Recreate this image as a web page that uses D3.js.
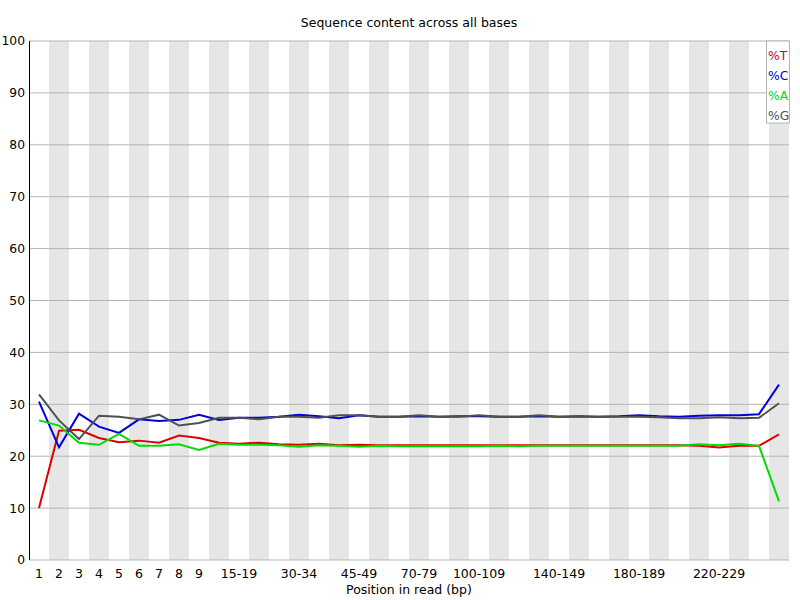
<!DOCTYPE html>
<html>
<head>
<meta charset="utf-8">
<script src="https://cdn.jsdelivr.net/npm/d3@7"></script>
<style>
  body { margin: 0; background: #fff; }
  text { font-family: "DejaVu Sans", sans-serif; }
</style>
</head>
<body>
<svg id="chart"></svg>
<script>
// positions in read (bp), FastQC style grouping
const categories = [
  "1", "2", "3", "4", "5", "6", "7", "8", "9",
  "10-14", "15-19", "20-24", "25-29", "30-34", "35-39", "40-44", "45-49",
  "50-59", "60-69", "70-79", "80-89", "90-99", "100-109", "110-119", "120-129",
  "130-139", "140-149", "150-159", "160-169", "170-179", "180-189", "190-199",
  "200-209", "210-219", "220-229", "230-239", "240-249", "250-251"
];

// labels that are actually printed under the axis
const shownLabels = [
  "1", "2", "3", "4", "5", "6", "7", "8", "9",
  "15-19", "30-34", "45-49", "70-79", "100-109", "140-149", "180-189", "220-229"
];

const yTicks = [0, 10, 20, 30, 40, 50, 60, 70, 80, 90, 100];

const tValues = [
  10.0, 24.9, 25.1, 23.5, 22.7, 23.0, 22.6, 24.0, 23.5, 22.6,
  22.4, 22.6, 22.3, 22.2, 22.4, 22.1, 22.2, 22.1, 22.1, 22.1,
  22.1, 22.1, 22.1, 22.1, 22.1, 22.1, 22.1, 22.1, 22.1, 22.1,
  22.1, 22.1, 22.1, 22.0, 21.7, 22.0, 22.0, 24.2
];
const cValues = [
  30.5, 21.7, 28.2, 25.7, 24.5, 27.1, 26.8, 27.0, 28.0, 27.0,
  27.4, 27.4, 27.6, 28.0, 27.7, 27.3, 27.9, 27.6, 27.6, 27.7,
  27.6, 27.7, 27.7, 27.6, 27.6, 27.7, 27.6, 27.7, 27.6, 27.7,
  27.9, 27.7, 27.6, 27.8, 27.9, 27.9, 28.1, 33.8
];
const aValues = [
  26.9, 25.9, 22.6, 22.2, 24.3, 22.0, 22.0, 22.3, 21.2, 22.4,
  22.2, 22.2, 22.1, 21.8, 22.1, 22.0, 21.8, 22.0, 21.9, 21.9,
  21.9, 21.9, 21.9, 22.0, 21.9, 22.0, 22.0, 22.0, 22.0, 22.0,
  22.0, 22.0, 22.0, 22.3, 22.1, 22.4, 22.0, 11.3
];
const gValues = [
  31.9, 26.9, 23.3, 27.8, 27.6, 27.1, 28.0, 25.9, 26.4, 27.4,
  27.4, 27.1, 27.6, 27.6, 27.4, 27.9, 27.9, 27.6, 27.6, 27.9,
  27.6, 27.6, 27.9, 27.6, 27.6, 27.9, 27.6, 27.6, 27.6, 27.6,
  27.6, 27.5, 27.3, 27.3, 27.5, 27.3, 27.4, 30.2
];

const seriesNames = ["%T", "%C", "%A", "%G"];
const seriesColors = ["#dc0000", "#0000dc", "#00dc00", "#505050"];
const seriesValues = [tValues, cValues, aValues, gValues];

let width = 800;
let height = 600;
let padding = { top: 41, right: 11, bottom: 40, left: 29 };

let svg = d3.select("#chart")
    .attr("width", width)
    .attr("height", height);

let xScale = d3.scaleBand()
    .domain(categories)
    .range([padding.left, padding.left + categories.length * 20])
    .padding(0);

let yScale = d3.scaleLinear()
    .domain([0, 100])
    .range([height - padding.bottom, padding.top]);

const plotRight = width - padding.right;
const bw = xScale.bandwidth();

// alternating background bands
svg.selectAll(".band")
    .data(categories.filter((d, i) => i % 2 === 1))
    .enter()
    .append("rect")
    .attr("class", "band")
    .attr("x", d => xScale(d))
    .attr("y", yScale(100))
    .attr("width", bw)
    .attr("height", yScale(0) - yScale(100))
    .attr("fill", "#e6e6e6");

// horizontal grid lines
svg.selectAll(".grid")
    .data(yTicks)
    .enter()
    .append("line")
    .attr("class", "grid")
    .attr("x1", padding.left)
    .attr("x2", plotRight)
    .attr("y1", d => yScale(d))
    .attr("y2", d => yScale(d))
    .attr("stroke", "#b4b4b4")
    .attr("stroke-width", 1);

// y axis
let yAxis = d3.axisLeft(yScale)
    .tickValues(yTicks)
    .tickSize(0)
    .tickPadding(4);

let yG = svg.append("g")
    .attr("transform", `translate(${padding.left},0)`)
    .call(yAxis);
yG.select(".domain").remove();
yG.selectAll("text")
    .attr("font-size", 12.3)
    .attr("font-family", "DejaVu Sans, sans-serif")
    .attr("fill", "#000");

svg.append("line")
    .attr("x1", padding.left + 0.5)
    .attr("x2", padding.left + 0.5)
    .attr("y1", yScale(100))
    .attr("y2", yScale(0))
    .attr("stroke", "#000");

// x axis labels
let xAxis = d3.axisBottom(xScale)
    .tickValues(shownLabels)
    .tickSize(0)
    .tickPadding(9);

let xG = svg.append("g")
    .attr("transform", `translate(0,${yScale(0)})`)
    .call(xAxis);
xG.select(".domain").remove();
xG.selectAll("text")
    .attr("font-size", 12.5)
    .attr("font-family", "DejaVu Sans, sans-serif")
    .attr("fill", "#000");

// title + axis label
svg.append("text")
    .attr("x", (padding.left + plotRight) / 2)
    .attr("y", 27)
    .attr("text-anchor", "middle")
    .attr("font-size", 12.5)
    .text("Sequence content across all bases");

svg.append("text")
    .attr("x", (padding.left + plotRight) / 2)
    .attr("y", 594)
    .attr("text-anchor", "middle")
    .attr("font-size", 12.5)
    .text("Position in read (bp)");

// lines
let line = d3.line()
    .x((d, i) => xScale(categories[i]) + bw / 2)
    .y(d => yScale(d));

svg.selectAll(".series")
    .data(seriesValues)
    .enter()
    .append("path")
    .attr("class", "series")
    .attr("d", d => line(d))
    .attr("fill", "none")
    .attr("stroke", (d, i) => seriesColors[i])
    .attr("stroke-width", 2)
    .attr("stroke-linejoin", "miter");

// legend
let leg = svg.append("g");
leg.append("rect")
    .attr("x", 766.5)
    .attr("y", yScale(100))
    .attr("width", 23)
    .attr("height", 82)
    .attr("fill", "#fff")
    .attr("stroke", "#b4b4b4");

leg.selectAll(".legText")
    .data(seriesNames)
    .enter()
    .append("text")
    .attr("class", "legText")
    .attr("x", 768)
    .attr("y", (d, i) => 60 + i * 20)
    .attr("font-size", 12.3)
    .attr("fill", (d, i) => seriesColors[i])
    .text(d => d);
</script>
</body>
</html>
